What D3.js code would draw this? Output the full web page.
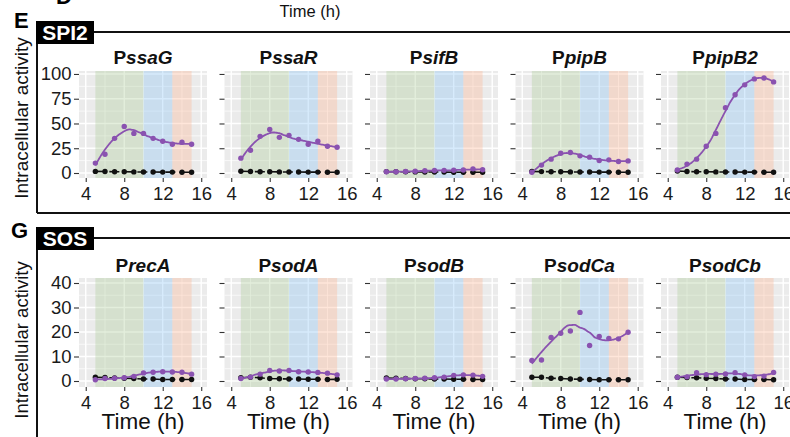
<!DOCTYPE html>
<html>
<head>
<meta charset="utf-8">
<script src="https://cdn.jsdelivr.net/npm/d3@7"></script>
<style>
  body { margin: 0; background: #fff; }
  svg { display: block; font-family: "Liberation Sans", Arial, sans-serif; }
</style>
</head>
<body>
<svg id="chart" width="790" height="437"></svg>
<script>
// measurement hours
var hours = [5, 6, 7, 8, 9, 10, 11, 12, 13, 14, 15];

// SPI2 promoters (purple) and their controls (black)
var spi2Names = ["ssaG", "ssaR", "sifB", "pipB", "pipB2"];
var ssaG = [10, 19, 35, 47, 40, 40, 35, 32, 29, 31, 29];
var ssaR = [15, 23, 37, 44, 36, 38, 34, 29, 32, 27, 26];
var sifB = [1.2, 1.3, 1.5, 1.8, 2.2, 2.5, 2.7, 2.8, 3.0, 4.2, 3.3];
var pipB = [0.7, 8, 14, 20, 20.7, 17.3, 16, 12.6, 13.3, 11.6, 12.2];
var pipB2 = [3, 9, 14, 27, 40, 66, 79, 89, 95, 96, 92];
var ssaGCtrl = [1.6, 1.5, 1.3, 1.2, 1.1, 1.0, 1.0, 0.9, 0.9, 0.8, 0.8];
var ssaRCtrl = [1.7, 1.5, 1.3, 1.2, 1.1, 1.0, 1.0, 0.9, 0.9, 0.8, 0.8];
var sifBCtrl = [1.4, 1.3, 1.2, 1.1, 1.0, 1.0, 0.9, 0.8, 0.8, 0.7, 0.7];
var pipBCtrl = [1.5, 1.4, 1.3, 1.2, 1.1, 1.0, 1.0, 0.9, 0.9, 0.8, 0.8];
var pipB2Ctrl = [2.0, 1.5, 1.3, 1.2, 1.1, 1.0, 1.0, 0.9, 0.9, 0.8, 0.8];

// SOS promoters (purple) and their controls (black)
var sosNames = ["recA", "sodA", "sodB", "sodCa", "sodCb"];
var recA = [0.5, 1.0, 1.1, 1.3, 1.9, 3.3, 3.6, 3.8, 3.7, 3.6, 2.8];
var sodA = [1.0, 1.6, 2.8, 4.3, 4.1, 4.3, 3.8, 3.7, 3.5, 3.2, 2.5];
var sodB = [0.8, 0.8, 0.9, 1.0, 1.1, 1.3, 1.6, 2.3, 2.5, 2.4, 1.9];
var sodCa = [8.4, 8.6, 17.8, 19.5, 20.4, 28, 14.5, 18.2, 17.4, 17.2, 19.9];
var sodCb = [1.5, 1.7, 3.4, 2.6, 2.8, 2.9, 3.4, 2.5, 1.8, 2.0, 3.5];
var recACtrl = [1.5, 1.4, 1.2, 1.1, 1.0, 0.8, 0.8, 0.6, 0.6, 0.6, 0.6];
var sodACtrl = [1.3, 1.5, 1.3, 1.0, 0.9, 0.8, 0.8, 0.7, 0.7, 0.6, 0.7];
var sodBCtrl = [1.2, 1.1, 1.0, 0.9, 0.9, 0.8, 0.8, 0.7, 0.7, 0.6, 0.6];
var sodCaCtrl = [1.5, 1.5, 1.1, 1.0, 0.8, 0.7, 0.6, 0.5, 0.5, 0.5, 0.5];
var sodCbCtrl = [1.5, 1.4, 1.3, 1.1, 1.0, 0.8, 0.8, 0.6, 0.6, 0.6, 0.5];

// growth phases shaded in each panel
var phaseStart = [5, 10, 13];
var phaseEnd = [10, 13, 15];
var phaseColor = ["#a2c68a", "#79bcf5", "#ffac83"];

// axis ticks
var xTicks = [4, 8, 12, 16];
var xMinor = [6, 10, 14];
var spi2Ticks = [0, 25, 50, 75, 100];
var spi2Minor = [12.5, 37.5, 62.5, 87.5];
var sosTicks = [0, 10, 20, 30, 40];
var sosMinor = [5, 15, 25, 35];

var svg = d3.select("#chart");
var purple = "#8a52b0";
var panelW = 128, panelStep = 145.5, panelX0 = 79;

var x = d3.scaleLinear().domain([3.3, 16.6]).range([0, panelW]);

// local quadratic regression, like ggplot's default loess smoother
function loess(xs, ys, span, x0) {
  var n = xs.length, q = Math.floor(n * span);
  var d = xs.map(function (v) { return Math.abs(v - x0); });
  var h = d.slice().sort(d3.ascending)[q - 1];
  var s0 = 0, s1 = 0, s2 = 0, s3 = 0, s4 = 0, t0 = 0, t1 = 0, t2 = 0;
  for (var i = 0; i < n; i++) {
    var u = d[i] / h;
    if (u >= 1) continue;
    var w = Math.pow(1 - u * u * u, 3), dx = xs[i] - x0, y = ys[i];
    s0 += w; s1 += w * dx; s2 += w * dx * dx; s3 += w * dx * dx * dx; s4 += w * dx * dx * dx * dx;
    t0 += w * y; t1 += w * dx * y; t2 += w * dx * dx * y;
  }
  var det = s0 * (s2 * s4 - s3 * s3) - s1 * (s1 * s4 - s3 * s2) + s2 * (s1 * s3 - s2 * s2);
  var num = t0 * (s2 * s4 - s3 * s3) - s1 * (t1 * s4 - s3 * t2) + s2 * (t1 * s3 - s2 * t2);
  return num / det;
}

function drawRow(cfg) {
  var y = d3.scaleLinear().domain(cfg.yDomain).range([cfg.height, 0]);

  cfg.names.forEach(function (name, i) {
    var vals = cfg.values[i], ctrl = cfg.ctrl[i];
    var g = svg.append("g")
      .attr("transform", "translate(" + (panelX0 + i * panelStep) + "," + cfg.top + ")");

    g.append("rect")
      .attr("width", panelW).attr("height", cfg.height)
      .attr("fill", "#ebebeb");

    // grid
    g.selectAll(".gxm").data(xMinor).enter().append("line")
      .attr("x1", x).attr("x2", x).attr("y1", 0).attr("y2", cfg.height)
      .attr("stroke", "#fff").attr("stroke-width", 0.7);
    g.selectAll(".gym").data(cfg.minor).enter().append("line")
      .attr("y1", y).attr("y2", y).attr("x1", 0).attr("x2", panelW)
      .attr("stroke", "#fff").attr("stroke-width", 0.7);
    g.selectAll(".gx").data(xTicks).enter().append("line")
      .attr("x1", x).attr("x2", x).attr("y1", 0).attr("y2", cfg.height)
      .attr("stroke", "#fff").attr("stroke-width", 1.4);
    g.selectAll(".gy").data(cfg.ticks).enter().append("line")
      .attr("y1", y).attr("y2", y).attr("x1", 0).attr("x2", panelW)
      .attr("stroke", "#fff").attr("stroke-width", 1.4);

    // phase shading
    g.selectAll(".phase").data(phaseStart).enter().append("rect")
      .attr("x", function (d) { return x(d); })
      .attr("width", function (d, k) { return x(phaseEnd[k]) - x(d); })
      .attr("y", 0).attr("height", cfg.height)
      .attr("fill", function (d, k) { return phaseColor[k]; })
      .attr("opacity", 0.3);

    // control series: dashed line with dots
    var line = d3.line()
      .x(function (d, k) { return x(hours[k]); })
      .y(function (d) { return y(d); });
    g.append("path")
      .attr("d", line(ctrl))
      .attr("fill", "none").attr("stroke", "#111")
      .attr("stroke-width", 1.6).attr("stroke-dasharray", "10,4");
    g.selectAll(".cdot").data(ctrl).enter().append("circle")
      .attr("cx", function (d, k) { return x(hours[k]); })
      .attr("cy", y).attr("r", 2.7).attr("fill", "#111");

    // promoter series: loess smooth and points
    var grid = d3.range(5, 15.0001, 0.1);
    var smooth = grid.map(function (t) { return [t, loess(hours, vals, 0.75, t)]; });
    g.append("path")
      .attr("d", d3.line().x(function (d) { return x(d[0]); }).y(function (d) { return y(d[1]); })(smooth))
      .attr("fill", "none").attr("stroke", purple).attr("stroke-width", 1.8);
    g.selectAll(".pdot").data(vals).enter().append("circle")
      .attr("cx", function (d, k) { return x(hours[k]); })
      .attr("cy", y).attr("r", 2.7).attr("fill", purple);

    // axes
    var ya = g.append("g")
      .call(d3.axisLeft(y).tickValues(cfg.ticks).tickSize(5).tickPadding(2.5)
        .tickFormat(i === 0 ? d3.format("d") : function () { return ""; }));
    var xa = g.append("g")
      .attr("transform", "translate(0," + cfg.height + ")")
      .call(d3.axisBottom(x).tickValues(xTicks).tickSize(4).tickPadding(cfg.xPad));
    [ya, xa].forEach(function (a) {
      a.select(".domain").remove();
      a.attr("font-family", null).attr("font-size", 18.5);
      a.selectAll("line").attr("stroke", "#333").attr("stroke-width", 1.1);
      a.selectAll("text").attr("fill", "#1a1a1a");
    });

    // panel title
    var title = g.append("text")
      .attr("x", panelW / 2).attr("y", cfg.titleY)
      .attr("text-anchor", "middle")
      .attr("font-size", 19).attr("font-weight", "bold").attr("fill", "#111");
    title.append("tspan").text("P");
    title.append("tspan").attr("font-style", "italic").text(name);

    if (cfg.timeLabel) {
      g.append("text")
        .attr("x", panelW / 2).attr("y", cfg.height + 42)
        .attr("text-anchor", "middle")
        .attr("font-size", 22.5).attr("fill", "#111")
        .text("Time (h)");
    }
  });

  // frame, strip and letter
  svg.append("line")
    .attr("x1", 94).attr("x2", 790).attr("y1", cfg.frameTop).attr("y2", cfg.frameTop)
    .attr("stroke", "#111").attr("stroke-width", 2);
  svg.append("line")
    .attr("x1", 37).attr("x2", 37).attr("y1", cfg.frameTop).attr("y2", cfg.frameBottom)
    .attr("stroke", "#111").attr("stroke-width", 2);
  if (cfg.closed) {
    svg.append("line")
      .attr("x1", 37).attr("x2", 790).attr("y1", cfg.frameBottom).attr("y2", cfg.frameBottom)
      .attr("stroke", "#111").attr("stroke-width", 2);
  }
  svg.append("rect")
    .attr("x", 36).attr("y", cfg.frameTop - 11).attr("width", 58).attr("height", 23)
    .attr("fill", "#000");
  svg.append("text")
    .attr("x", 65).attr("y", cfg.frameTop + 8)
    .attr("text-anchor", "middle")
    .attr("font-size", 21).attr("font-weight", "bold").attr("fill", "#fff")
    .text(cfg.strip);
  svg.append("text")
    .attr("x", cfg.letterX).attr("y", cfg.letterY)
    .attr("font-size", 22).attr("font-weight", "bold").attr("fill", "#000")
    .text(cfg.letter);
  svg.append("text")
    .attr("transform", "translate(28," + cfg.labelY + ") rotate(-90)")
    .attr("text-anchor", "middle")
    .attr("font-size", cfg.labelSize).attr("fill", "#111")
    .text("Intracellular activity");
}

drawRow({
  names: spi2Names,
  values: [ssaG, ssaR, sifB, pipB, pipB2],
  ctrl: [ssaGCtrl, ssaRCtrl, sifBCtrl, pipBCtrl, pipB2Ctrl],
  yDomain: [-5.05, 103], ticks: spi2Ticks, minor: spi2Minor,
  top: 71, height: 107, xPad: 5, titleY: -7, timeLabel: false,
  frameTop: 32, frameBottom: 213, closed: true,
  strip: "SPI2", letter: "E", letterX: 14, letterY: 28,
  labelY: 118, labelSize: 19
});

drawRow({
  names: sosNames,
  values: [recA, sodA, sodB, sodCa, sodCb],
  ctrl: [recACtrl, sodACtrl, sodBCtrl, sodCaCtrl, sodCbCtrl],
  yDomain: [-2.45, 42.04], ticks: sosTicks, minor: sosMinor,
  top: 278, height: 109, xPad: 5, titleY: -6, timeLabel: true,
  frameTop: 238, frameBottom: 437, closed: false,
  strip: "SOS", letter: "G", letterX: 11, letterY: 238,
  labelY: 340, labelSize: 18.5
});

// header remnants from the figure above
svg.append("text")
  .attr("x", 310).attr("y", 17)
  .attr("text-anchor", "middle")
  .attr("font-size", 16.5).attr("fill", "#111")
  .text("Time (h)");
svg.append("text")
  .attr("x", 56).attr("y", 4)
  .attr("font-size", 22).attr("font-weight", "bold").attr("fill", "#000")
  .text("D");
</script>
</body>
</html>
